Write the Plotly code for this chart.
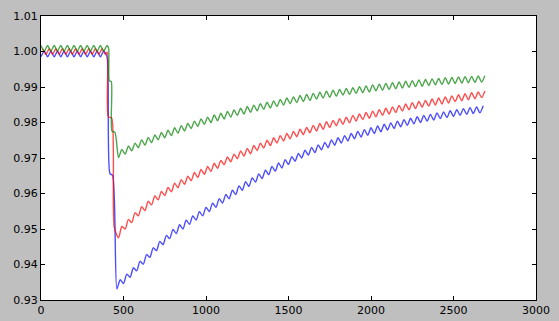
import plotly.graph_objects as go

# ---------------- data ----------------
# blue series
blue_x = list(range(0, 401, 20)) + [418, 434] + list(range(460, 2681, 20))
blue_y = [
    0.9985, 1.0001, 0.9985, 1.0001, 0.9985, 1.0001, 0.9985, 1.0001, 0.9985, 1.0001,
    0.9985, 1.0001, 0.9985, 1.0001, 0.9985, 1.0001, 0.9985, 1.0001, 0.9985, 1.0001,
    0.9985,
    0.9656, 0.9651,
    0.9331, 0.9357, 0.9346, 0.9373, 0.9364, 0.9391, 0.9382, 0.9409, 0.9401, 0.9428,
    0.9420, 0.9447, 0.9439, 0.9465, 0.9456, 0.9482, 0.9473, 0.9499, 0.9487, 0.9512,
    0.9500, 0.9525, 0.9513, 0.9537, 0.9525, 0.9549, 0.9537, 0.9561, 0.9549, 0.9573,
    0.9561, 0.9585, 0.9573, 0.9597, 0.9585, 0.9609, 0.9597, 0.9621, 0.9609, 0.9633,
    0.9620, 0.9644, 0.9632, 0.9655, 0.9642, 0.9666, 0.9653, 0.9676, 0.9663, 0.9686,
    0.9672, 0.9695, 0.9682, 0.9704, 0.9691, 0.9713, 0.9700, 0.9722, 0.9708, 0.9730,
    0.9715, 0.9737, 0.9723, 0.9744, 0.9729, 0.9751, 0.9736, 0.9757, 0.9742, 0.9763,
    0.9748, 0.9769, 0.9754, 0.9775, 0.9759, 0.9780, 0.9764, 0.9785, 0.9769, 0.9790,
    0.9774, 0.9795, 0.9779, 0.9799, 0.9783, 0.9804, 0.9788, 0.9808, 0.9792, 0.9812,
    0.9796, 0.9816, 0.9800, 0.9820, 0.9804, 0.9823, 0.9807, 0.9827, 0.9811, 0.9830,
    0.9814, 0.9833, 0.9817, 0.9836, 0.9820, 0.9839, 0.9823, 0.9842, 0.9825, 0.9844,
    0.9827, 0.9847,
]

# red series
red_x = list(range(10, 391, 20)) + [402, 408, 428, 444] + list(range(470, 2691, 20))
red_y = [
    1.0008, 0.9992, 1.0008, 0.9992, 1.0008, 0.9992, 1.0008, 0.9992, 1.0008, 0.9992,
    1.0008, 0.9992, 1.0008, 0.9992, 1.0008, 0.9992, 1.0008, 0.9992, 1.0008, 0.9992,
    0.9998, 0.9816, 0.9813, 0.9505,
    0.9475, 0.9507, 0.9500, 0.9527, 0.9518, 0.9546, 0.9537, 0.9563, 0.9552, 0.9578,
    0.9568, 0.9593, 0.9582, 0.9606, 0.9594, 0.9617, 0.9605, 0.9629, 0.9616, 0.9639,
    0.9626, 0.9649, 0.9636, 0.9659, 0.9645, 0.9668, 0.9654, 0.9676, 0.9662, 0.9685,
    0.9671, 0.9693, 0.9681, 0.9703, 0.9689, 0.9711, 0.9698, 0.9720, 0.9705, 0.9727,
    0.9712, 0.9735, 0.9721, 0.9742, 0.9728, 0.9750, 0.9735, 0.9757, 0.9742, 0.9763,
    0.9748, 0.9769, 0.9754, 0.9775, 0.9760, 0.9781, 0.9766, 0.9786, 0.9771, 0.9792,
    0.9776, 0.9797, 0.9781, 0.9802, 0.9786, 0.9806, 0.9791, 0.9811, 0.9795, 0.9815,
    0.9799, 0.9820, 0.9804, 0.9824, 0.9808, 0.9828, 0.9812, 0.9832, 0.9816, 0.9836,
    0.9820, 0.9840, 0.9824, 0.9844, 0.9828, 0.9848, 0.9832, 0.9852, 0.9836, 0.9856,
    0.9839, 0.9859, 0.9843, 0.9862, 0.9846, 0.9866, 0.9849, 0.9869, 0.9852, 0.9872,
    0.9855, 0.9875, 0.9859, 0.9878, 0.9861, 0.9881, 0.9864, 0.9884, 0.9867, 0.9886,
    0.9870, 0.9889,
]

# green series
green_x = list(range(0, 401, 20)) + [410, 414, 426, 430, 448] + list(range(470, 2691, 20))
green_y = [
    1.0017, 1.0001, 1.0017, 1.0001, 1.0017, 1.0001, 1.0017, 1.0001, 1.0017, 1.0001,
    1.0017, 1.0001, 1.0017, 1.0001, 1.0017, 1.0001, 1.0017, 1.0001, 1.0017, 1.0001,
    1.0017,
    1.0008, 0.9918, 0.9915, 0.9776, 0.9772,
    0.9701, 0.9724, 0.9711, 0.9734, 0.9720, 0.9742, 0.9729, 0.9751, 0.9736, 0.9758,
    0.9743, 0.9765, 0.9751, 0.9772, 0.9757, 0.9778, 0.9763, 0.9785, 0.9770, 0.9791,
    0.9776, 0.9797, 0.9783, 0.9804, 0.9789, 0.9810, 0.9795, 0.9815, 0.9800, 0.9821,
    0.9805, 0.9826, 0.9810, 0.9831, 0.9815, 0.9835, 0.9820, 0.9840, 0.9824, 0.9845,
    0.9829, 0.9849, 0.9833, 0.9853, 0.9837, 0.9857, 0.9841, 0.9861, 0.9845, 0.9865,
    0.9849, 0.9869, 0.9853, 0.9872, 0.9856, 0.9876, 0.9859, 0.9879, 0.9862, 0.9882,
    0.9866, 0.9885, 0.9869, 0.9888, 0.9871, 0.9891, 0.9874, 0.9893, 0.9877, 0.9896,
    0.9879, 0.9898, 0.9882, 0.9901, 0.9884, 0.9903, 0.9886, 0.9906, 0.9889, 0.9908,
    0.9891, 0.9910, 0.9893, 0.9912, 0.9895, 0.9914, 0.9897, 0.9916, 0.9899, 0.9918,
    0.9901, 0.9920, 0.9902, 0.9921, 0.9904, 0.9923, 0.9906, 0.9924, 0.9907, 0.9926,
    0.9908, 0.9927, 0.9910, 0.9928, 0.9911, 0.9929, 0.9912, 0.9930, 0.9913, 0.9931,
    0.9914, 0.9932,
]

x_ticks = [0, 500, 1000, 1500, 2000, 2500, 3000]
y_ticks = [0.93, 0.94, 0.95, 0.96, 0.97, 0.98, 0.99, 1.00, 1.01]

# ---------------- figure ----------------
fig = go.Figure()
series = [
    (blue_x, blue_y, "rgba(0,0,255,0.7)"),
    (red_x, red_y, "rgba(255,0,0,0.7)"),
    (green_x, green_y, "rgba(0,128,0,0.7)"),
]
for xs, ys, col in series:
    fig.add_trace(go.Scatter(x=xs, y=ys, mode="lines",
                             line=dict(color=col, width=1.4, shape="spline", smoothing=0.7),
                             showlegend=False, hoverinfo="skip"))

axis_common = dict(
    showline=True, linecolor="black", linewidth=1, mirror="allticks",
    ticks="inside", ticklen=4, tickcolor="black", tickwidth=1,
    showgrid=False, zeroline=False, automargin=False,
    tickfont=dict(family="DejaVu Sans", size=11, color="black"),
)
fig.update_xaxes(range=[0, 3000], tickvals=x_ticks,
                 ticktext=[str(v) for v in x_ticks], **axis_common)
fig.update_yaxes(range=[0.93, 1.01], tickvals=y_ticks,
                 ticktext=[f"{v:.2f}" for v in y_ticks], **axis_common)

fig.update_layout(
    width=559, height=321,
    paper_bgcolor="#bfbfbf", plot_bgcolor="white",
    margin=dict(l=41, r=23, t=16, b=21, autoexpand=False),
)

fig.write_html(
    "out.html",
    config={"displayModeBar": False},
    post_script="document.body.style.margin='0px';"
                "document.body.style.overflow='hidden';"
                "document.body.style.background='#bfbfbf';",
)
